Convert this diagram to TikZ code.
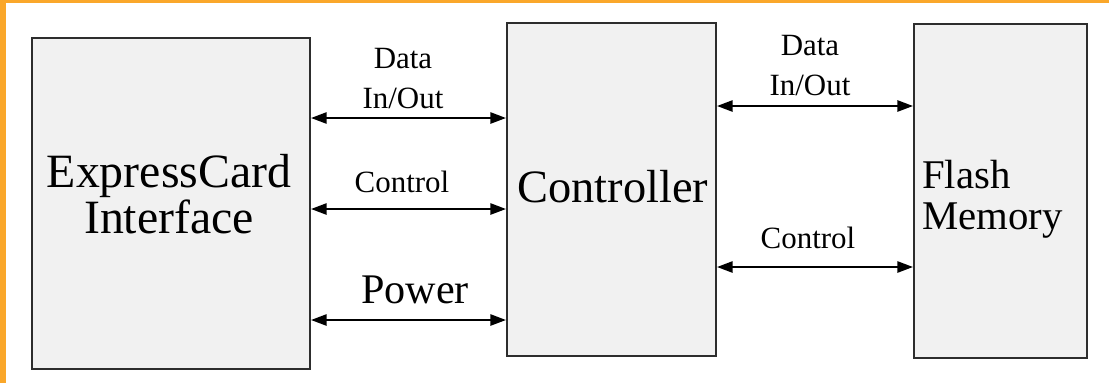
\documentclass[tikz,border=0pt]{standalone}
\usepackage{fontspec}
\setmainfont{Liberation Serif}
\usetikzlibrary{arrows.meta}
\definecolor{edgeorange}{RGB}{250,167,42}
\definecolor{boxfill}{RGB}{241,241,241}
\definecolor{boxline}{RGB}{45,45,45}

\begin{document}
\begin{tikzpicture}[x=0.025cm, y=-0.025cm,
	block/.style={draw=boxline, line width=1.5pt, fill=boxfill, inner sep=0pt},
	bus/.style={{Triangle[length=11pt,width=8pt]}-{Triangle[length=11pt,width=8pt]}, line width=1.2pt},
	lbl/.style={font=\fontsize{22}{28.4}\selectfont, align=center, inner sep=0pt}]
	\useasboundingbox (0,0) rectangle (1109,383);
	\fill[white] (0,0) rectangle (1109,383);
	\fill[edgeorange] (0,0) rectangle (1109,3);
	\fill[edgeorange] (0,0) rectangle (6,383);

	% blocks
	\node[block, minimum width=6.95cm, minimum height=8.275cm] (iface) at (171,203.5) {};
	\node[block, minimum width=5.225cm, minimum height=8.325cm] (ctrl) at (611.5,189.5) {};
	\node[block, minimum width=4.325cm, minimum height=8.35cm] (flash) at (1000.5,191) {};
	\node[anchor=base, align=center, inner sep=0pt, font=\fontsize{34}{32.7}\selectfont] (iface-txt) at (169,233) {ExpressCard\\Interface};
	\node[anchor=base, inner sep=0pt, font=\fontsize{33}{33}\selectfont] (ctrl-txt) at (613,202) {Controller};
	\node[anchor=base west, align=left, inner sep=0pt, font=\fontsize{29}{29}\selectfont] (flash-txt) at (922,229) {Flash\\Memory};

	% links
	\draw[bus] (iface.east |- 0,118) -- (ctrl.west |- 0,118);
	\draw[bus] (iface.east |- 0,209) -- (ctrl.west |- 0,209);
	\draw[bus] (iface.east |- 0,320) -- (ctrl.west |- 0,320);
	\draw[bus] (ctrl.east |- 0,106) -- (flash.west |- 0,106);
	\draw[bus] (ctrl.east |- 0,267) -- (flash.west |- 0,267);

	\node[lbl, anchor=base] (data-l) at (403,108) {Data\\In/Out};
	\node[lbl, anchor=base] (ctl-l) at (402,192) {Control};
	\node[lbl, anchor=base, font=\fontsize{30}{30}\selectfont] (pwr) at (415,303) {Power};
	\node[lbl, anchor=base] (data-r) at (810,95) {Data\\In/Out};
	\node[lbl, anchor=base] (ctl-r) at (808,248) {Control};
\end{tikzpicture}
\end{document}
